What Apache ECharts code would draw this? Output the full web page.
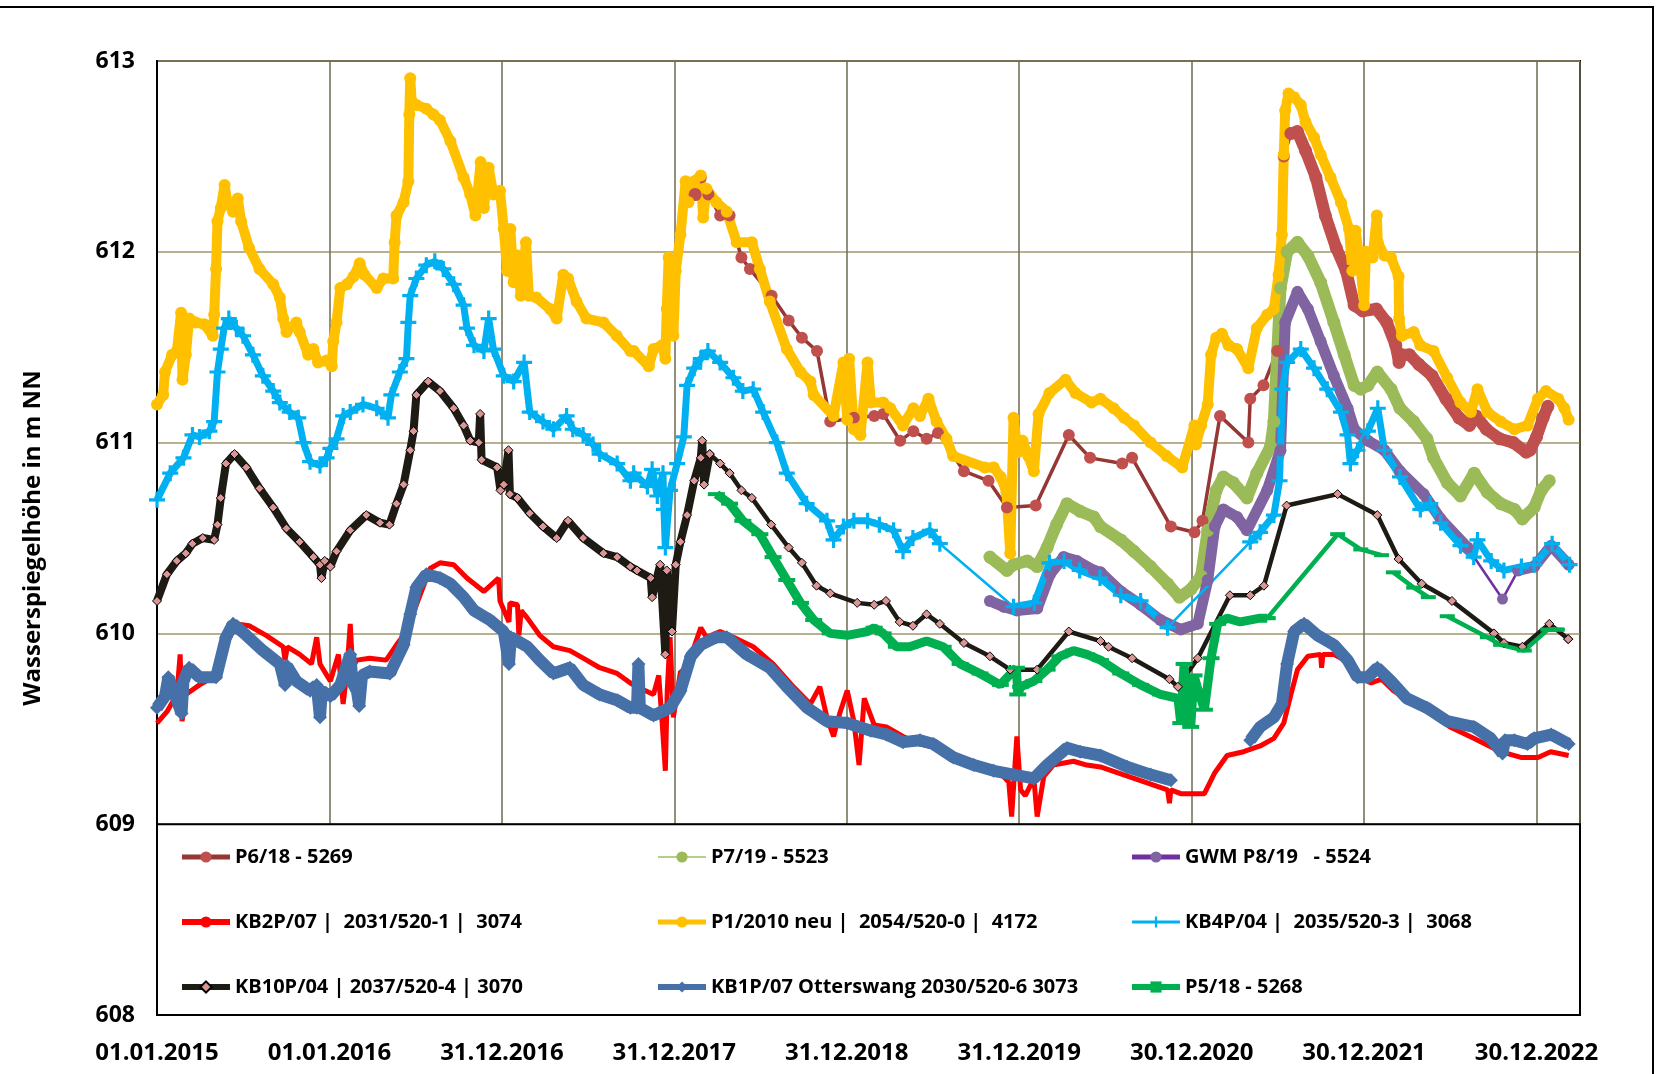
<!DOCTYPE html>
<html>
<head>
<meta charset="utf-8">
<script src="https://cdn.jsdelivr.net/npm/echarts@6/dist/echarts.min.js"></script>
<style>
  html, body { margin: 0; padding: 0; background: #fff; }
  #chart { width: 1661px; height: 1074px; }
</style>
</head>
<body>
<div id="chart"></div>
<script>
// Groundwater levels (m NN) of the observation wells, [date, level]; null = no readings
const p618 = [
  ['2018-02-13',612.30],['2018-02-25',612.39],['2018-03-13',612.30],['2018-04-07',612.19],['2018-04-27',612.19],
  ['2018-05-22',611.97],['2018-06-09',611.91],['2018-07-25',611.77],['2018-08-30',611.64],['2018-09-27',611.55],
  ['2018-10-29',611.48],['2018-11-26',611.11],['2019-01-15',611.13],['2019-02-27',611.14],['2019-03-18',611.15],
  ['2019-04-23',611.01],['2019-05-21',611.06],['2019-06-18',611.02],['2019-07-12',611.05],['2019-09-05',610.85],
  ['2019-10-27',610.80],['2019-12-05',610.66],['2020-02-04',610.67],['2020-04-14',611.04],['2020-05-29',610.92],
  ['2020-08-05',610.89],['2020-08-26',610.92],['2020-11-16',610.56],['2021-01-05',610.53],['2021-01-22',610.59],
  ['2021-02-28',611.14],['2021-04-29',611.00],['2021-05-03',611.23],['2021-05-31',611.30],['2021-06-29',611.48],
  ['2021-07-13',612.50],['2021-07-28',612.62],
  ['2021-08-11',612.63],['2021-08-28',612.53],['2021-09-19',612.39],['2021-10-09',612.19],['2021-11-01',612.02],
  ['2021-11-22',611.90],['2021-12-09',611.72],['2021-12-27',611.69],['2022-01-25',611.70],['2022-02-16',611.63],
  ['2022-03-07',611.51],['2022-03-14',611.42],['2022-03-19',611.46],['2022-04-05',611.46],['2022-04-25',611.41],
  ['2022-05-23',611.35],['2022-06-21',611.23],['2022-07-19',611.13],['2022-08-10',611.09],['2022-08-24',611.14],
  ['2022-09-15',611.07],['2022-10-13',611.02],['2022-11-11',611.00],['2022-12-08',610.95],['2022-12-16',610.96],
  ['2022-12-30',611.03],['2023-01-13',611.13],['2023-01-23',611.19]
];
// manual readings before the logger was installed
const p618ManualPeriod = [['2018-02-13', '2021-07-28']];

const p719 = [
  ['2019-10-30',610.40],['2019-12-05',610.33],['2019-12-19',610.36],['2020-01-17',610.38],['2020-02-07',610.35],
  ['2020-02-28',610.45],['2020-03-19',610.57],['2020-04-10',610.68],['2020-05-08',610.64],['2020-06-06',610.61],
  ['2020-06-20',610.56],['2020-08-02',610.49],['2020-08-30',610.43],['2020-10-04',610.35],['2020-11-09',610.26],
  ['2020-12-04',610.19],['2020-12-28',610.23],['2021-01-19',610.30],['2021-02-02',610.54],['2021-02-20',610.75],
  ['2021-03-07',610.82],['2021-03-28',610.79],['2021-04-26',610.71],['2021-05-17',610.84],['2021-06-15',610.98],
  ['2021-06-22',611.11],['2021-07-06',611.81],['2021-07-20',612.00],['2021-08-11',612.05],['2021-09-02',611.98],
  ['2021-09-29',611.84],['2021-10-27',611.63],['2021-11-18',611.46],['2021-12-09',611.30],['2021-12-23',611.28],
  ['2022-01-07',611.30],['2022-01-27',611.37],['2022-02-25',611.28],['2022-03-16',611.18],['2022-04-14',611.11],
  ['2022-05-12',611.02],['2022-05-26',610.92],['2022-06-24',610.79],['2022-07-22',610.72],['2022-08-20',610.84],
  ['2022-09-17',610.74],['2022-10-15',610.68],['2022-11-13',610.65],['2022-11-30',610.60],['2022-12-25',610.66],
  ['2023-01-09',610.75],['2023-01-26',610.80]
];

const p819 = [
  ['2019-10-30',610.17],['2019-11-28',610.14],['2019-12-26',610.12],['2020-02-07',610.13],['2020-03-05',610.31],
  ['2020-04-03',610.40],['2020-05-01',610.38],['2020-06-06',610.33],['2020-06-20',610.32],['2020-08-02',610.22],
  ['2020-09-13',610.15],['2020-10-25',610.07],['2020-12-07',610.02],['2021-01-12',610.05],['2021-02-02',610.28],
  ['2021-02-17',610.56],['2021-03-07',610.65],['2021-04-05',610.61],['2021-04-26',610.54],['2021-06-08',610.75],
  ['2021-07-06',610.96],['2021-07-16',611.63],['2021-08-11',611.79],['2021-09-02',611.70],['2021-09-29',611.53],
  ['2021-10-27',611.35],['2021-11-25',611.18],['2021-12-09',611.07],['2022-01-07',611.01],['2022-02-11',610.96],
  ['2022-03-16',610.85],['2022-05-05',610.73],['2022-06-10',610.60],['2022-08-06',610.45],['2022-10-19',610.18],
  ['2022-11-21',610.33],['2022-12-25',610.35],['2023-01-30',610.46],['2023-03-08',610.36]
];
const p819SparsePeriod = [['2022-08-06', '2022-11-21']];

const kb2p07 = [
  ['2015-01-01',609.53],['2015-01-22',609.59],['2015-02-12',609.68],['2015-02-19',609.89],['2015-02-23',609.54],
  ['2015-03-03',609.68],['2015-04-01',609.73],['2015-04-29',609.77],['2015-05-27',609.94],['2015-06-18',610.05],
  ['2015-07-15',610.04],['2015-08-20',609.99],['2015-09-25',609.93],['2015-09-29',609.86],['2015-10-04',609.93],
  ['2015-10-30',609.89],['2015-11-24',609.84],['2015-12-05',609.98],['2015-12-12',609.84],['2016-01-03',609.75],
  ['2016-01-20',609.89],['2016-01-30',609.63],['2016-02-07',609.80],['2016-02-14',610.05],['2016-02-19',609.82],
  ['2016-02-28',609.86],['2016-03-26',609.87],['2016-04-30',609.86],['2016-05-22',609.94],['2016-06-12',610.01],
  ['2016-07-03',610.15],['2016-08-01',610.34],['2016-08-22',610.37],['2016-09-20',610.36],['2016-10-18',610.29],
  ['2016-11-23',610.22],['2016-12-24',610.29],['2016-12-27',610.17],['2017-01-15',610.06],['2017-01-17',610.16],
  ['2017-02-02',610.15],['2017-02-05',609.99],['2017-02-10',610.12],['2017-02-23',610.08],['2017-03-21',609.99],
  ['2017-04-19',609.93],['2017-05-24',609.91],['2017-06-21',609.87],['2017-07-26',609.82],['2017-09-01',609.79],
  ['2017-09-29',609.74],['2017-10-13',609.72],['2017-11-17',609.68],['2017-11-28',609.78],['2017-12-05',609.54],
  ['2017-12-12',609.28],['2017-12-16',609.70],['2017-12-22',609.98],['2017-12-29',609.56],['2018-01-13',609.80],
  ['2018-01-27',609.80],['2018-02-11',609.93],['2018-02-25',610.03],['2018-03-09',609.98],['2018-04-07',610.01],
  ['2018-05-05',609.98],['2018-06-16',609.93],['2018-07-28',609.84],['2018-09-09',609.72],['2018-10-15',609.63],
  ['2018-11-04',609.72],['2018-11-19',609.56],['2018-12-03',609.46],['2018-12-16',609.58],['2019-01-01',609.70],
  ['2019-01-15',609.54],['2019-01-26',609.31],['2019-02-06',609.66],['2019-02-27',609.52],['2019-03-25',609.51],
  ['2019-04-29',609.46],['2019-06-04',609.42],['2019-07-09',609.40],['2019-08-14',609.37],['2019-09-19',609.31],
  ['2019-10-24',609.28],['2019-11-28',609.25],['2019-12-09',609.22],['2019-12-15',609.04],['2019-12-26',609.46],
  ['2020-01-03',609.18],['2020-01-13',609.15],['2020-01-31',609.24],['2020-02-07',609.04],['2020-02-21',609.25],
  ['2020-03-12',609.31],['2020-04-24',609.33],['2020-05-22',609.31],['2020-06-20',609.30],['2020-08-30',609.24],
  ['2020-11-09',609.18],['2020-11-13',609.11],['2020-11-16',609.18],['2020-12-07',609.16],['2021-01-26',609.16],
  ['2021-02-17',609.27],['2021-03-15',609.36],['2021-04-19',609.38],['2021-05-24',609.41],['2021-06-22',609.45],
  ['2021-07-13',609.53],['2021-07-27',609.67],['2021-08-11',609.81],['2021-09-02',609.88],['2021-09-29',609.89],
  ['2021-10-01',609.82],['2021-10-04',609.89],['2021-10-27',609.89],['2021-11-18',609.86],['2021-12-09',609.81],
  ['2021-12-30',609.76],['2022-01-14',609.74],['2022-02-05',609.76],['2022-03-02',609.70],['2022-04-14',609.63],
  ['2022-05-19',609.58],['2022-06-30',609.51],['2022-08-19',609.45],['2022-10-15',609.38],['2022-11-27',609.35],
  ['2023-01-02',609.35],['2023-01-29',609.38],['2023-03-08',609.36]
];

const p1neu = [
  ['2015-01-01',611.20],['2015-01-14',611.25],['2015-01-18',611.37],['2015-02-02',611.46],['2015-02-12',611.48],
  ['2015-02-21',611.68],['2015-02-24',611.33],['2015-03-03',611.46],['2015-03-10',611.65],['2015-03-24',611.63],
  ['2015-04-11',611.62],['2015-04-29',611.56],['2015-05-02',611.67],['2015-05-06',611.91],['2015-05-09',612.16],
  ['2015-05-16',612.23],['2015-05-24',612.35],['2015-05-30',612.26],['2015-06-11',612.21],['2015-06-21',612.28],
  ['2015-06-28',612.16],['2015-07-15',612.02],['2015-08-06',611.91],['2015-09-04',611.83],['2015-09-18',611.76],
  ['2015-09-25',611.65],['2015-10-02',611.58],['2015-10-23',611.63],['2015-10-30',611.58],['2015-11-17',611.46],
  ['2015-11-28',611.49],['2015-12-08',611.42],['2015-12-26',611.43],['2016-01-06',611.40],['2016-01-09',611.53],
  ['2016-01-16',611.63],['2016-01-24',611.81],['2016-02-07',611.83],['2016-02-21',611.87],['2016-03-05',611.94],
  ['2016-03-15',611.88],['2016-04-10',611.81],['2016-04-24',611.86],['2016-05-15',611.86],['2016-05-18',612.05],
  ['2016-05-22',612.19],['2016-06-06',612.26],['2016-06-16',612.37],['2016-06-18',612.72],['2016-06-20',612.91],
  ['2016-06-23',612.79],['2016-07-03',612.77],['2016-07-24',612.75],['2016-08-08',612.72],['2016-08-22',612.69],
  ['2016-09-13',612.58],['2016-10-11',612.39],['2016-10-25',612.30],['2016-11-05',612.19],['2016-11-16',612.47],
  ['2016-11-23',612.23],['2016-12-03',612.44],['2016-12-13',612.30],['2016-12-27',612.32],['2017-01-04',612.12],
  ['2017-01-11',611.90],['2017-01-18',612.12],['2017-01-25',611.84],['2017-02-02',611.98],['2017-02-09',611.77],
  ['2017-02-20',612.05],['2017-02-26',611.77],['2017-03-14',611.76],['2017-04-12',611.70],['2017-04-26',611.65],
  ['2017-05-10',611.88],['2017-05-20',611.86],['2017-06-07',611.74],['2017-06-28',611.65],['2017-08-03',611.63],
  ['2017-08-31',611.56],['2017-09-29',611.48],['2017-10-06',611.48],['2017-11-07',611.40],['2017-11-17',611.49],
  ['2017-12-05',611.51],['2017-12-12',611.44],['2017-12-15',611.70],['2017-12-19',611.97],['2017-12-29',611.56],
  ['2018-01-03',611.90],['2018-01-13',612.09],['2018-01-24',612.37],['2018-01-30',612.26],['2018-02-11',612.37],
  ['2018-02-25',612.40],['2018-03-02',612.18],['2018-03-09',612.33],['2018-03-30',612.26],['2018-04-21',612.21],
  ['2018-05-12',612.05],['2018-06-13',612.05],['2018-06-30',611.91],['2018-07-21',611.74],['2018-08-26',611.49],
  ['2018-09-24',611.37],['2018-10-15',611.32],['2018-10-22',611.25],['2018-12-03',611.14],['2018-12-24',611.42],
  ['2019-01-01',611.12],['2019-01-05',611.44],['2019-01-15',611.07],['2019-01-29',611.04],['2019-02-13',611.42],
  ['2019-02-20',611.21],['2019-03-18',611.21],['2019-04-02',611.18],['2019-04-29',611.09],['2019-05-21',611.18],
  ['2019-06-04',611.14],['2019-06-22',611.23],['2019-07-09',611.11],['2019-07-30',611.02],['2019-08-13',610.93],
  ['2019-10-19',610.87],['2019-11-07',610.87],['2019-11-22',610.82],['2019-12-04',610.74],['2019-12-12',610.42],
  ['2019-12-19',611.13],['2019-12-28',610.95],['2020-01-07',611.01],['2020-01-19',610.93],['2020-01-31',610.85],
  ['2020-02-10',611.15],['2020-03-04',611.26],['2020-04-07',611.33],['2020-04-28',611.26],['2020-06-01',611.21],
  ['2020-06-20',611.23],['2020-07-18',611.18],['2020-08-09',611.13],['2020-08-30',611.09],['2020-10-04',611.00],
  ['2020-11-07',610.93],['2020-12-10',610.87],['2021-01-05',611.09],['2021-01-08',610.99],['2021-01-19',611.09],
  ['2021-02-02',611.20],['2021-02-09',611.46],['2021-02-20',611.55],['2021-03-04',611.57],['2021-03-18',611.51],
  ['2021-04-05',611.49],['2021-04-29',611.39],['2021-05-17',611.60],['2021-06-08',611.67],['2021-06-22',611.70],
  ['2021-07-02',611.88],['2021-07-09',612.09],['2021-07-13',612.51],['2021-07-16',612.74],['2021-07-23',612.83],
  ['2021-08-04',612.81],['2021-08-18',612.77],['2021-08-28',612.68],['2021-09-15',612.60],['2021-09-29',612.51],
  ['2021-10-20',612.39],['2021-11-11',612.26],['2021-11-28',612.12],['2021-12-05',611.90],['2021-12-12',612.11],
  ['2021-12-23',611.91],['2021-12-30',611.72],['2022-01-03',612.00],['2022-01-17',611.97],['2022-01-26',612.19],
  ['2022-01-28',612.05],['2022-02-11',611.98],['2022-02-25',611.97],['2022-03-13',611.87],['2022-03-14',611.65],
  ['2022-03-20',611.56],['2022-04-14',611.58],['2022-04-28',611.51],['2022-05-26',611.48],['2022-06-24',611.34],
  ['2022-07-22',611.21],['2022-08-13',611.16],['2022-08-27',611.28],['2022-09-17',611.16],['2022-10-15',611.11],
  ['2022-11-13',611.07],['2022-12-11',611.09],['2023-01-02',611.23],['2023-01-19',611.27],['2023-02-14',611.23],
  ['2023-02-27',611.18],['2023-03-08',611.12]
];

const kb4p04 = [
  ['2015-01-01',610.70],['2015-01-29',610.84],['2015-02-26',610.92],['2015-03-17',611.04],['2015-04-01',611.03],
  ['2015-04-22',611.06],['2015-05-02',611.11],['2015-05-09',611.37],['2015-05-16',611.49],['2015-05-23',611.60],
  ['2015-06-02',611.65],['2015-06-18',611.60],['2015-07-02',611.56],['2015-07-23',611.46],['2015-08-13',611.35],
  ['2015-09-04',611.27],['2015-09-18',611.21],['2015-10-09',611.16],['2015-10-27',611.13],['2015-11-07',611.00],
  ['2015-11-21',610.90],['2015-12-12',610.88],['2015-12-26',610.92],['2016-01-03',610.97],['2016-01-16',611.02],
  ['2016-01-30',611.14],['2016-02-14',611.16],['2016-03-12',611.20],['2016-04-10',611.18],['2016-05-04',611.13],
  ['2016-05-11',611.25],['2016-05-29',611.37],['2016-06-12',611.44],['2016-06-16',611.63],['2016-06-20',611.77],
  ['2016-07-03',611.86],['2016-07-24',611.93],['2016-08-11',611.95],['2016-08-29',611.91],['2016-09-20',611.83],
  ['2016-10-11',611.72],['2016-10-18',611.60],['2016-11-02',611.51],['2016-11-23',611.48],['2016-12-03',611.65],
  ['2016-12-13',611.49],['2017-01-04',611.35],['2017-01-25',611.32],['2017-02-16',611.42],['2017-02-28',611.16],
  ['2017-03-28',611.11],['2017-04-19',611.07],['2017-05-17',611.14],['2017-05-30',611.07],['2017-06-21',611.04],
  ['2017-07-12',610.99],['2017-07-26',610.94],['2017-09-01',610.89],['2017-09-29',610.80],['2017-10-06',610.84],
  ['2017-11-04',610.77],['2017-11-14',610.86],['2017-11-25',610.72],['2017-12-07',610.84],['2017-12-09',610.65],
  ['2017-12-12',610.45],['2017-12-22',610.75],['2018-01-06',610.89],['2018-01-20',611.03],['2018-01-27',611.30],
  ['2018-02-11',611.39],['2018-02-25',611.44],['2018-03-12',611.48],['2018-04-07',611.42],['2018-05-05',611.34],
  ['2018-05-25',611.27],['2018-06-16',611.28],['2018-07-07',611.16],['2018-08-05',611.00],['2018-08-26',610.84],
  ['2018-10-07',610.68],['2018-11-19',610.59],['2018-12-03',610.49],['2018-12-24',610.56],['2019-01-15',610.59],
  ['2019-02-13',610.59],['2019-03-10',610.57],['2019-04-09',610.54],['2019-04-29',610.43],['2019-05-20',610.50],
  ['2019-06-25',610.54],['2019-07-16',610.47],['2019-12-19',610.14],['2020-02-01',610.16],['2020-03-04',610.37],
  ['2020-04-04',610.38],['2020-05-07',610.33],['2020-06-19',610.29],['2020-08-02',610.20],['2020-09-13',610.17],
  ['2020-11-09',610.03],['2021-05-03',610.48],['2021-05-24',610.53],['2021-06-22',610.62],['2021-07-04',610.80],
  ['2021-07-10',611.28],['2021-07-20',611.42],['2021-08-18',611.49],['2021-09-15',611.39],['2021-10-13',611.28],
  ['2021-11-11',611.16],['2021-11-25',611.04],['2021-12-01',610.89],['2021-12-16',610.96],['2022-01-07',611.06],
  ['2022-01-28',611.18],['2022-02-11',610.96],['2022-03-16',610.82],['2022-04-28',610.65],['2022-05-19',610.68],
  ['2022-06-10',610.58],['2022-07-22',610.46],['2022-08-19',610.40],['2022-08-27',610.49],['2022-09-25',610.38],
  ['2022-10-22',610.33],['2022-11-28',610.35],['2022-12-25',610.36],['2023-02-01',610.47],['2023-03-10',610.36]
];
const kb4p04NoLoggerPeriods = [['2019-07-16', '2019-12-19'], ['2020-11-09', '2021-05-03']];

const kb10p04 = [
  ['2015-01-01',610.17],['2015-01-22',610.31],['2015-02-12',610.38],['2015-03-03',610.42],['2015-03-17',610.47],
  ['2015-04-08',610.50],['2015-05-02',610.49],['2015-05-09',610.57],['2015-05-16',610.71],['2015-05-27',610.89],
  ['2015-06-14',610.94],['2015-07-09',610.87],['2015-08-06',610.76],['2015-09-04',610.66],['2015-10-02',610.55],
  ['2015-10-30',610.48],['2015-11-28',610.40],['2015-12-12',610.36],['2015-12-15',610.29],['2015-12-22',610.38],
  ['2016-01-03',610.35],['2016-01-16',610.43],['2016-02-14',610.54],['2016-03-19',610.62],['2016-04-17',610.58],
  ['2016-05-07',610.57],['2016-05-22',610.68],['2016-06-06',610.78],['2016-06-20',610.96],['2016-06-27',611.06],
  ['2016-07-03',611.25],['2016-07-28',611.32],['2016-08-22',611.27],['2016-09-20',611.18],['2016-10-11',611.09],
  ['2016-10-25',611.01],['2016-11-12',611.00],['2016-11-15',611.15],['2016-11-18',610.91],['2016-12-21',610.87],
  ['2016-12-28',610.75],['2017-01-04',610.78],['2017-01-14',610.96],['2017-01-17',610.73],['2017-02-02',610.71],
  ['2017-02-28',610.63],['2017-03-28',610.56],['2017-04-26',610.50],['2017-05-20',610.59],['2017-06-21',610.50],
  ['2017-08-03',610.42],['2017-09-01',610.40],['2017-09-29',610.35],['2017-10-13',610.33],['2017-11-11',610.29],
  ['2017-11-14',610.19],['2017-12-01',610.36],['2017-12-12',609.89],['2017-12-15',610.33],['2017-12-26',610.01],
  ['2018-01-03',610.36],['2018-01-13',610.48],['2018-01-27',610.62],['2018-02-11',610.80],['2018-02-25',610.92],
  ['2018-02-28',611.01],['2018-03-04',610.78],['2018-03-16',610.94],['2018-04-07',610.89],['2018-04-27',610.84],
  ['2018-05-22',610.75],['2018-06-13',610.71],['2018-07-24',610.57],['2018-08-30',610.45],['2018-09-27',610.37],
  ['2018-10-28',610.25],['2018-11-26',610.21],['2019-01-22',610.16],['2019-02-27',610.15],['2019-03-24',610.17],
  ['2019-04-22',610.06],['2019-05-20',610.04],['2019-06-18',610.10],['2019-07-16',610.05],['2019-09-05',609.95],
  ['2019-10-30',609.88],['2019-12-12',609.81],['2020-02-07',609.81],['2020-04-14',610.01],['2020-06-20',609.96],
  ['2020-07-07',609.93],['2020-08-26',609.87],['2020-11-13',609.76],['2020-12-01',609.72],['2021-01-12',609.87],
  ['2021-03-21',610.20],['2021-05-03',610.20],['2021-06-01',610.25],['2021-07-19',610.67],['2021-11-04',610.73],
  ['2022-01-27',610.62],['2022-03-13',610.39],['2022-05-01',610.26],['2022-07-04',610.17],['2022-10-01',610.00],
  ['2022-10-22',609.95],['2022-11-30',609.93],['2023-01-26',610.05],['2023-03-07',609.97]
];
// single readings after the logger period
const kb10p04ManualPeriod = [['2018-03-16', '2023-03-07']];

const kb1p07 = [
  ['2015-01-01',609.61],['2015-01-18',609.67],['2015-01-25',609.77],['2015-02-05',609.70],['2015-02-22',609.58],
  ['2015-02-26',609.75],['2015-03-10',609.82],['2015-04-01',609.77],['2015-05-06',609.77],['2015-05-27',609.98],
  ['2015-06-11',610.05],['2015-07-09',609.99],['2015-08-13',609.91],['2015-09-18',609.84],['2015-09-29',609.73],
  ['2015-10-03',609.83],['2015-10-23',609.75],['2015-11-21',609.70],['2015-12-05',609.73],['2015-12-12',609.56],
  ['2015-12-16',609.70],['2016-01-03',609.67],['2016-01-24',609.73],['2016-02-14',609.89],['2016-02-19',609.74],
  ['2016-02-28',609.70],['2016-03-04',609.62],['2016-03-10',609.78],['2016-03-26',609.80],['2016-05-08',609.79],
  ['2016-06-06',609.94],['2016-06-20',610.10],['2016-07-03',610.24],['2016-07-24',610.31],['2016-08-22',610.29],
  ['2016-09-13',610.26],['2016-10-11',610.19],['2016-11-02',610.12],['2016-12-06',610.07],['2017-01-04',610.01],
  ['2017-01-15',609.84],['2017-01-19',609.98],['2017-02-02',609.96],['2017-02-23',609.93],['2017-03-21',609.86],
  ['2017-04-19',609.79],['2017-05-24',609.82],['2017-06-21',609.73],['2017-07-26',609.68],['2017-09-01',609.65],
  ['2017-09-29',609.61],['2017-10-13',609.61],['2017-10-16',609.84],['2017-10-19',609.61],['2017-11-17',609.57],
  ['2017-12-22',609.61],['2018-01-13',609.70],['2018-02-04',609.88],['2018-02-25',609.94],['2018-03-30',609.98],
  ['2018-04-21',609.98],['2018-06-02',609.89],['2018-07-21',609.82],['2018-08-26',609.72],['2018-10-08',609.61],
  ['2018-11-19',609.54],['2019-01-01',609.53],['2019-02-20',609.49],['2019-03-25',609.47],['2019-04-29',609.43],
  ['2019-06-04',609.44],['2019-07-02',609.42],['2019-08-14',609.35],['2019-09-26',609.31],['2019-11-07',609.28],
  ['2019-12-19',609.26],['2020-01-31',609.24],['2020-02-28',609.31],['2020-04-10',609.40],['2020-05-08',609.38],
  ['2020-06-20',609.36],['2020-08-16',609.30],['2020-10-04',609.26],['2020-11-16',609.23],['2021-02-01',null],
  ['2021-05-03',609.44],['2021-05-24',609.51],['2021-06-22',609.56],['2021-07-09',609.63],['2021-07-20',609.84],
  ['2021-08-04',610.01],['2021-08-25',610.05],['2021-09-22',609.99],['2021-10-27',609.94],['2021-11-25',609.86],
  ['2021-12-16',609.77],['2022-01-07',609.77],['2022-01-27',609.82],['2022-02-25',609.75],['2022-03-30',609.66],
  ['2022-05-12',609.61],['2022-06-24',609.54],['2022-08-19',609.51],['2022-09-24',609.45],['2022-10-19',609.37],
  ['2022-10-24',609.44],['2022-11-13',609.44],['2022-12-11',609.42],['2022-12-25',609.45],['2023-01-30',609.47],
  ['2023-03-08',609.42]
];

const p518 = [
  ['2018-03-30',610.73],['2018-04-27',610.68],['2018-05-25',610.59],['2018-06-30',610.52],['2018-07-28',610.40],
  ['2018-08-26',610.28],['2018-09-24',610.16],['2018-10-22',610.07],['2018-11-26',610.00],['2019-01-01',609.99],
  ['2019-02-13',610.01],['2019-02-27',610.03],['2019-03-18',610.00],['2019-04-15',609.93],['2019-05-13',609.93],
  ['2019-06-18',609.96],['2019-07-23',609.93],['2019-08-28',609.84],['2019-10-09',609.79],['2019-11-21',609.73],
  ['2019-12-25',609.82],['2019-12-28',609.68],['2020-01-03',609.72],['2020-01-31',609.75],['2020-02-28',609.81],
  ['2020-03-26',609.88],['2020-04-24',609.91],['2020-05-22',609.89],['2020-06-20',609.86],['2020-08-02',609.79],
  ['2020-09-13',609.73],['2020-10-25',609.68],['2020-12-01',609.66],['2020-12-07',609.53],['2020-12-14',609.84],
  ['2020-12-19',609.60],['2020-12-28',609.51],['2021-01-04',609.78],['2021-01-13',609.70],['2021-01-26',609.60],
  ['2021-02-09',609.87],['2021-02-23',610.05],['2021-03-15',610.08],['2021-04-12',610.06],['2021-05-24',610.08],
  ['2021-06-08',610.08],['2021-11-04',610.52],['2021-12-23',610.44],['2022-02-05',610.41],['2022-02-18',null],
  ['2022-03-02',610.32],['2022-04-14',610.24],['2022-05-15',610.19],['2022-06-05',null],
  ['2022-06-24',610.09],['2022-09-17',609.98],['2022-10-15',609.94],['2022-12-04',609.91],['2023-01-23',610.02],
  ['2023-02-10',610.02]
];
const p518ManualPeriod = [['2021-06-08', '2023-02-10']];

// Axis layout values
const yTicks = [608, 609, 610, 611, 612, 613];
const axisStart = '2015-01-01';
const axisEnd = '2023-04-01';
const tickDays = 365;

const names = {
  p618: 'P6/18 - 5269',
  p719: 'P7/19 - 5523',
  p819: 'GWM P8/19   - 5524',
  kb2p07: 'KB2P/07 |  2031/520-1 |  3074',
  p1neu: 'P1/2010 neu |  2054/520-0 |  4172',
  kb4p04: 'KB4P/04 |  2035/520-3 |  3068',
  kb10p04: 'KB10P/04 | 2037/520-4 | 3070',
  kb1p07: 'KB1P/07 Otterswang 2030/520-6 3073',
  p518: 'P5/18 - 5268'
};

const DAY = 86400000;
const BASE = Date.parse(axisStart + 'T00:00:00Z');
function toDay(s) { return (Date.parse(s + 'T00:00:00Z') - BASE) / DAY; }
function pts(arr) { return arr.map(p => p[1] === null ? [toDay(p[0]), '-'] : [toDay(p[0]), p[1]]); }
function pad(n) { return (n < 10 ? '0' : '') + n; }
function fmtDay(d) {
  const t = new Date(BASE + d * DAY);
  return pad(t.getUTCDate()) + '.' + pad(t.getUTCMonth() + 1) + '.' + t.getUTCFullYear();
}

// Split a record into the continuous logger part and the sparse stretches
// (given as [from, to] periods) that are drawn as thin connecting lines.
function splitRecord(arr, periods) {
  const strictlyInside = d => periods.some(r => d > r[0] && d < r[1]);
  const inPeriod = d => periods.find(r => d >= r[0] && d <= r[1]);
  const main = [], link = [];
  let lastPeriod = null;
  arr.forEach(p => {
    const d = p[0];
    if (!strictlyInside(d)) {
      main.push(p);
      if (periods.some(r => r[0] === d)) main.push([d, null]);
    }
    const r = inPeriod(d);
    if (r) {
      if (lastPeriod && lastPeriod !== r) link.push([d, null]);
      link.push(p);
      lastPeriod = r;
    }
  });
  return { main, link };
}

const p618Parts = splitRecord(p618, p618ManualPeriod);
const p819Parts = splitRecord(p819, p819SparsePeriod);
const kb4p04Parts = splitRecord(kb4p04, kb4p04NoLoggerPeriods);
const kb10p04Parts = splitRecord(kb10p04, kb10p04ManualPeriod);
const p518Parts = splitRecord(p518, p518ManualPeriod);

const plusSymbol = 'path://M4,0H6V4H10V6H6V10H4V6H0V4H4Z';

function line(name, data, color, width, extra) {
  return Object.assign({
    type: 'line', name: name, data: pts(data),
    lineStyle: { color: color, width: width },
    itemStyle: { color: color },
    symbol: 'none', showSymbol: true,
    connectNulls: false, silent: true,
    emphasis: { disabled: true }
  }, extra || {});
}

const diamondStyle = { color: '#D99694', borderColor: '#000', borderWidth: 1 };

const series = [
  line(names.p618, p618Parts.link, '#953735', 3.5, { symbol: 'circle', symbolSize: 12, itemStyle: { color: '#C0504D' } }),
  line(names.p618, p618Parts.main, '#C0504D', 12, { symbol: 'circle', symbolSize: 13 }),
  line(names.p719, p719, '#9BBB59', 12, { symbol: 'circle', symbolSize: 13 }),
  line(names.p819, p819Parts.main, '#8064A2', 11, { symbol: 'circle', symbolSize: 12 }),
  line(names.p819, p819Parts.link, '#7030A0', 2.5, { symbol: 'circle', symbolSize: 11, itemStyle: { color: '#8064A2' } }),
  line(names.kb2p07, kb2p07, '#FF0000', 5),
  line(names.p1neu, p1neu, '#FFC000', 10, { symbol: 'circle', symbolSize: 12 }),
  line(names.kb4p04, kb4p04Parts.main, '#00B0F0', 7, { symbol: plusSymbol, symbolSize: 16 }),
  line(names.kb4p04, kb4p04Parts.link, '#00B0F0', 2.5),
  line(names.kb10p04, kb10p04Parts.main, '#1E1A14', 8, { symbol: 'diamond', symbolSize: 9, itemStyle: diamondStyle }),
  line(names.kb10p04, kb10p04Parts.link, '#1E1A14', 4.5, { symbol: 'diamond', symbolSize: 9, itemStyle: diamondStyle }),
  line(names.kb1p07, kb1p07, '#4670A8', 12, { symbol: 'diamond', symbolSize: 14 }),
  line(names.p518, p518Parts.main, '#00B050', 9, { symbol: 'rect', symbolSize: [17, 4] }),
  line(names.p518, p518Parts.link, '#00B050', 4.5, { symbol: 'rect', symbolSize: [15, 4] })
];

const fontFamily = '"Open Sans", "Noto Sans", sans-serif';
const legendBase = {
  orient: 'vertical', top: 842, itemWidth: 48, itemHeight: 14, itemGap: 45,
  selectedMode: false, z: 10,
  textStyle: { fontFamily: fontFamily, fontWeight: 'bold', fontSize: 20, color: '#000', lineHeight: 20 }
};

const xMax = toDay(axisEnd);

const option = {
  animation: false,
  backgroundColor: '#fff',
  grid: { left: 157, right: 81, top: 61, bottom: 59, show: true, borderColor: '#000', borderWidth: 2 },
  xAxis: {
    type: 'value', min: 0, max: xMax, interval: tickDays,
    axisLine: { show: true, lineStyle: { color: '#000', width: 2 } },
    axisTick: { show: false },
    axisLabel: { formatter: fmtDay, showMaxLabel: false, margin: 26,
      fontFamily: fontFamily, fontWeight: 'bold', fontSize: 24, color: '#000' },
    splitLine: { show: true, lineStyle: { color: '#6E6A52', width: 1.5 } }
  },
  yAxis: {
    type: 'value', min: yTicks[0], max: yTicks[yTicks.length - 1], interval: 1,
    name: 'Wasserspiegelhöhe in m NN', nameLocation: 'middle', nameGap: 112,
    nameTextStyle: { fontFamily: fontFamily, fontWeight: 'bold', fontSize: 24, color: '#000' },
    axisLine: { show: true, lineStyle: { color: '#000', width: 2 } },
    axisTick: { show: false },
    axisLabel: { margin: 22, fontFamily: fontFamily, fontWeight: 'bold', fontSize: 23, color: '#000' },
    splitLine: { show: true, lineStyle: { color: '#A0976B', width: 1.5 } }
  },
  legend: [
    Object.assign({}, legendBase, { left: 174, data: [
      { name: names.p618, lineStyle: { width: 5, color: '#953735' } },
      { name: names.kb2p07, lineStyle: { width: 6 } },
      { name: names.kb10p04, lineStyle: { width: 6 } }
    ] }),
    Object.assign({}, legendBase, { left: 650, data: [
      { name: names.p719, lineStyle: { width: 2, color: '#B5CE88' } },
      { name: names.p1neu, lineStyle: { width: 5 } },
      { name: names.kb1p07, lineStyle: { width: 6 } }
    ] }),
    Object.assign({}, legendBase, { left: 1124, data: [
      { name: names.p819, lineStyle: { width: 5, color: '#7030A0' } },
      { name: names.kb4p04, lineStyle: { width: 3 } },
      { name: names.p518, lineStyle: { width: 6 } }
    ] })
  ],
  graphic: [
    { id: 'frame', type: 'rect', z: 1, silent: true,
      shape: { x: -10, y: 7, width: 1663, height: 1100 },
      style: { fill: 'none', stroke: '#000', lineWidth: 2 } }
  ],
  series: series
};

const chart = echarts.init(document.getElementById('chart'), null, { renderer: 'canvas' });
chart.setOption(option);

// White legend panel over the lowest band of the plot (608 – 609)
const topLeft = chart.convertToPixel({ gridIndex: 0 }, [0, yTicks[1]]);
const bottomRight = chart.convertToPixel({ gridIndex: 0 }, [xMax, yTicks[0]]);
chart.setOption({
  graphic: [
    { id: 'frame' },
    { id: 'legendPanel', type: 'rect', z: 3, silent: true,
      shape: { x: topLeft[0], y: topLeft[1], width: bottomRight[0] - topLeft[0], height: bottomRight[1] - topLeft[1] },
      style: { fill: '#fff', stroke: '#000', lineWidth: 2 } }
  ]
});
</script>
</body>
</html>
